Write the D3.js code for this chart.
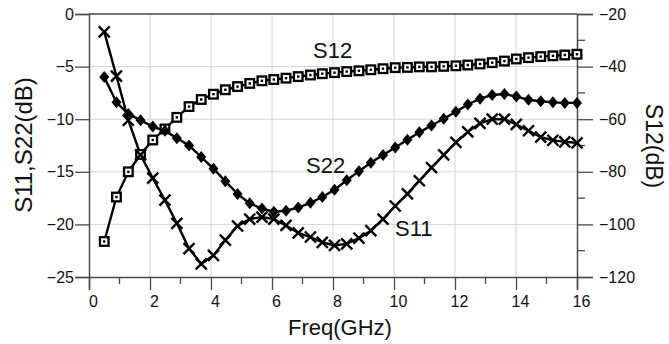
<!DOCTYPE html>
<html>
<head>
<meta charset="utf-8">
<script src="https://cdn.jsdelivr.net/npm/d3@7"></script>
<style>
  body { margin: 0; background: #fff; }
  text { font-family: "Liberation Sans", Arial, sans-serif; fill: #111; }
</style>
</head>
<body>
<div id="chart"></div>
<script>
// frequency points (GHz)
var freq = [0.5, 0.9, 1.29, 1.69, 2.09, 2.49, 2.88, 3.28, 3.68, 4.08,
            4.47, 4.87, 5.27, 5.67, 6.06, 6.46, 6.86, 7.26, 7.65, 8.05,
            8.45, 8.85, 9.24, 9.64, 10.04, 10.44, 10.83, 11.23, 11.63, 12.03,
            12.42, 12.82, 13.22, 13.62, 14.01, 14.41, 14.81, 15.21, 15.6, 16.0];

// S11 (dB, left axis)
var s11 = [-1.7, -5.9, -10.1, -13.4, -15.6, -17.7, -19.9, -22.3, -23.75, -22.95,
           -21.5, -20.15, -19.5, -19.3, -19.5, -20.1, -20.8, -21.2, -21.7, -22.0,
           -21.85, -21.3, -20.6, -19.5, -18.25, -17.1, -15.85, -14.6, -13.4, -12.2,
           -11.2, -10.4, -10.0, -10.0, -10.5, -11.1, -11.7, -12.0, -12.15, -12.25];

// S22 (dB, left axis)
var s22 = [-6.0, -8.4, -9.5, -10.1, -10.7, -11.1, -11.8, -12.5, -13.6, -14.7,
           -15.9, -17.1, -18.0, -18.5, -18.8, -18.7, -18.4, -17.95, -17.4, -16.7,
           -15.8, -14.95, -14.15, -13.4, -12.7, -11.95, -11.25, -10.6, -9.95, -9.3,
           -8.6, -8.05, -7.7, -7.6, -7.85, -8.15, -8.3, -8.4, -8.45, -8.45];

// S12 (dB, right axis)
var s12 = [-106.5, -89.6, -80.0, -73.4, -67.9, -63.7, -59.3, -55.2, -52.5, -50.5,
           -48.8, -47.6, -46.4, -45.4, -44.9, -44.4, -43.8, -43.2, -42.7, -42.3,
           -41.9, -41.6, -41.2, -40.8, -40.4, -40.3, -40.1, -40.1, -39.9, -39.7,
           -39.4, -39.0, -38.5, -37.9, -37.1, -36.6, -36.2, -35.9, -35.6, -35.3];

var xTicks = [0, 2, 4, 6, 8, 10, 12, 14, 16];
var xMinor = [1, 3, 5, 7, 9, 11, 13, 15];
var leftTicks = [0, -5, -10, -15, -20, -25];
var rightTicks = [-20, -40, -60, -80, -100, -120];
var rightMinor = [-30, -50, -70, -90, -110];

var W = 669, H = 344;
var L = 89, R = 577, T = 14, B = 277;

var svg = d3.select("#chart").append("svg")
    .attr("width", W).attr("height", H);

var x = d3.scaleLinear().domain([0, 16]).range([L, R]);
var yL = d3.scaleLinear().domain([-25, 0]).range([B, T]);
var yR = d3.scaleLinear().domain([-120, -20]).range([B, T]);

var gridColor = "#d4d4d4", axisColor = "#4a4a4a";

// grid
svg.append("g").selectAll("line").data(xTicks.slice(1, -1)).enter().append("line")
    .attr("x1", d => x(d)).attr("x2", d => x(d)).attr("y1", T).attr("y2", B)
    .style("stroke", gridColor).style("stroke-width", 1);
svg.append("g").selectAll("line").data(leftTicks.slice(1, -1)).enter().append("line")
    .attr("x1", L).attr("x2", R).attr("y1", d => yL(d)).attr("y2", d => yL(d))
    .style("stroke", gridColor).style("stroke-width", 1);

// axes
var bottomAxis = svg.append("g").attr("transform", "translate(0," + B + ")")
    .call(d3.axisBottom(x).tickValues(xTicks).tickSize(13).tickPadding(6).tickFormat(d3.format("d")));
bottomAxis.append("g").selectAll("line").data(xMinor).enter().append("line")
    .attr("x1", d => x(d)).attr("x2", d => x(d)).attr("y1", 0).attr("y2", 7);

var leftAxis = svg.append("g").attr("transform", "translate(" + L + ",0)")
    .call(d3.axisLeft(yL).tickValues(leftTicks).tickSize(14).tickPadding(1).tickFormat(d3.format("d")));

var rightAxis = svg.append("g").attr("transform", "translate(" + R + ",0)")
    .call(d3.axisRight(yR).tickValues(rightTicks).tickSize(16).tickPadding(6).tickFormat(d3.format("d")));
rightAxis.append("g").selectAll("line").data(rightMinor).enter().append("line")
    .attr("x1", 0).attr("x2", 8).attr("y1", d => yR(d)).attr("y2", d => yR(d));

svg.append("line").attr("x1", L).attr("x2", R).attr("y1", T).attr("y2", T)
    .style("stroke", axisColor).style("stroke-width", 1.5);

svg.selectAll(".domain").style("stroke", axisColor).style("stroke-width", 1.5);
svg.selectAll(".tick line").style("stroke", axisColor).style("stroke-width", 1.3);
bottomAxis.selectAll("g > line").style("stroke", axisColor).style("stroke-width", 1.3);
rightAxis.selectAll("g > line").style("stroke", axisColor).style("stroke-width", 1.3);
svg.selectAll(".tick text").style("font-size", "16px").style("fill", "#111")
    .style("font-family", "'Liberation Sans', Arial, sans-serif");
bottomAxis.selectAll(".tick text").attr("dx", 4);

// series
function lineOf(vals, ys) {
    return d3.line().x((d, i) => x(freq[i])).y(d => ys(d))(vals);
}
[[s12, yR], [s22, yL], [s11, yL]].forEach(function(s) {
    svg.append("path").attr("d", lineOf(s[0], s[1]))
        .style("fill", "none").style("stroke", "#000").style("stroke-width", 2.4);
});

// S12 squares
var sq = svg.append("g").selectAll("g").data(s12).enter().append("g")
    .attr("transform", (d, i) => "translate(" + x(freq[i]) + "," + yR(d) + ")");
sq.append("rect").attr("x", -4.3).attr("y", -4.3).attr("width", 8.6).attr("height", 8.6)
    .style("fill", "#fff").style("stroke", "#000").style("stroke-width", 2.3);
sq.append("rect").attr("x", -1.2).attr("y", -1.2).attr("width", 2.4).attr("height", 2.4)
    .style("fill", "#000");

// S22 diamonds
svg.append("g").selectAll("path").data(s22).enter().append("path")
    .attr("d", "M0,-6L5,0L0,6L-5,0Z")
    .attr("transform", (d, i) => "translate(" + x(freq[i]) + "," + yL(d) + ")")
    .style("fill", "#000");

// S11 crosses
svg.append("g").selectAll("path").data(s11).enter().append("path")
    .attr("d", "M-5.5,-5.5L5.5,5.5M-5.5,5.5L5.5,-5.5")
    .attr("transform", (d, i) => "translate(" + x(freq[i]) + "," + yL(d) + ")")
    .style("stroke", "#000").style("stroke-width", 2.4);

// series labels
svg.append("text").attr("x", 313).attr("y", 58).style("font-size", "22px").text("S12");
svg.append("text").attr("x", 306).attr("y", 173).style("font-size", "22px").text("S22");
svg.append("text").attr("x", 395).attr("y", 236).style("font-size", "22px").text("S11");

// axis titles
svg.append("text").attr("x", 340).attr("y", 335).attr("text-anchor", "middle")
    .style("font-size", "22px").text("Freq(GHz)");
svg.append("text").attr("transform", "translate(32,145) rotate(-90)")
    .attr("text-anchor", "middle").style("font-size", "24px").text("S11,S22(dB)");
svg.append("text").attr("transform", "translate(646,146) rotate(90)")
    .attr("text-anchor", "middle").style("font-size", "23px").text("S12(dB)");
</script>
</body>
</html>
